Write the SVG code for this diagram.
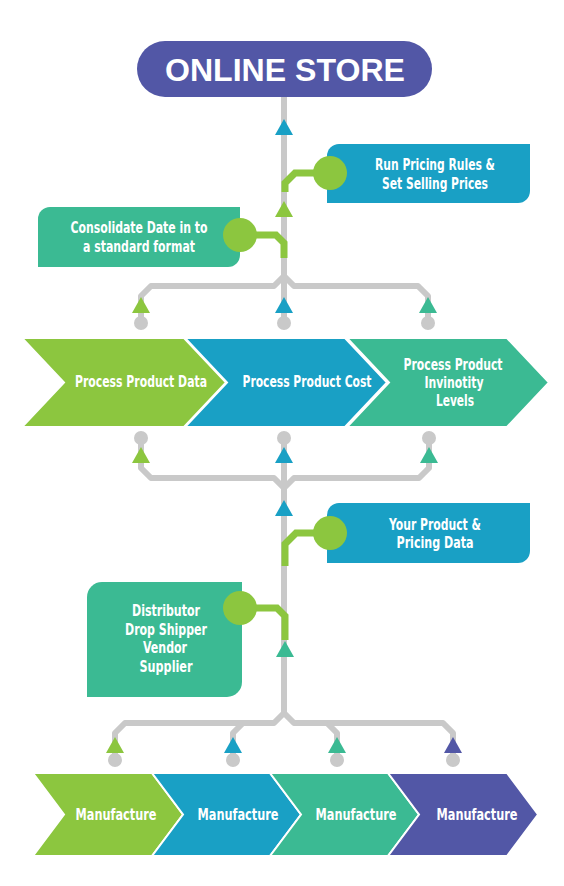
<svg xmlns="http://www.w3.org/2000/svg" width="564" height="886" viewBox="0 0 564 886">
<style>
.g{fill:none;stroke:#c9c9c9;stroke-width:6;stroke-linejoin:round}
.gc{fill:#c9c9c9}
.gl{fill:none;stroke:#8cc63f;stroke-width:7;stroke-linejoin:miter}
.grn{fill:#8cc63f}.blu{fill:#19a0c5}.tea{fill:#3bba93}.ind{fill:#5257a6}
.chev{stroke:#fff;stroke-width:2}
.t{fill:#fff;font-family:"Liberation Sans Narrow","DejaVu Sans Condensed","Liberation Sans",sans-serif;font-weight:bold;font-size:16px;text-anchor:middle}
.title{fill:#fff;font-family:"Liberation Sans",Arial,sans-serif;font-weight:bold;font-size:32px;text-anchor:middle}
</style>
<defs>
<path id="tri" d="M-9,16 L0,0 L9,16 Z"/>
</defs>
<rect width="564" height="886" fill="#fff"/>
<g id="connectors">
  <path class="g" d="M284,90 V300"/>
  <path class="g" d="M284,276 L274,286 H151 L141,296 V323"/>
  <path class="g" d="M284,276 L294,286 H418 L428,296 V323"/>
  <path class="g" d="M284,300 V323"/>
  <path class="g" d="M141,438 V468 L151,478 H274 L284,488"/>
  <path class="g" d="M429,438 V468 L419,478 H294 L284,488"/>
  <path class="g" d="M284,438 V713"/>
  <path class="g" d="M284,713 L274,723 H125 L115,733 V760"/>
  <path class="g" d="M284,713 L294,723 H443 L453,733 V760"/>
  <path class="g" d="M243,723 L233,733 V760"/>
  <path class="g" d="M327,723 L337,733 V760"/>
  <g class="gc">
    <circle cx="141" cy="323" r="7"/><circle cx="284" cy="323" r="7"/><circle cx="428" cy="323" r="7"/>
    <circle cx="141" cy="438" r="7"/><circle cx="284" cy="438" r="7"/><circle cx="429" cy="438" r="7"/>
    <circle cx="115" cy="760" r="7"/><circle cx="233" cy="760" r="7"/><circle cx="337" cy="760" r="7"/><circle cx="453" cy="760" r="7"/>
  </g>
  <path class="gl" d="M330,173 H295 L285,183 V192"/>
  <path class="gl" d="M240,235 H276 L284,243 V258"/>
  <path class="gl" d="M330,533 H296 L285,544 V566"/>
  <path class="gl" d="M240,608 H277 L285,616 V640"/>
  <use href="#tri" class="blu" x="284" y="119"/>
  <use href="#tri" class="grn" x="284" y="201"/>
  <use href="#tri" class="grn" x="141" y="297"/>
  <use href="#tri" class="blu" x="284" y="297"/>
  <use href="#tri" class="tea" x="428" y="297"/>
  <use href="#tri" class="grn" x="141" y="447"/>
  <use href="#tri" class="blu" x="284" y="447"/>
  <use href="#tri" class="tea" x="429" y="447"/>
  <use href="#tri" class="blu" x="284" y="500"/>
  <use href="#tri" class="tea" x="285" y="641"/>
  <use href="#tri" class="grn" x="115" y="737"/>
  <use href="#tri" class="blu" x="233" y="737"/>
  <use href="#tri" class="tea" x="337" y="737"/>
  <use href="#tri" class="ind" x="453" y="737"/>
</g>
<g id="online-store">
  <rect x="137" y="41" width="295" height="56" rx="28" class="ind"/>
  <text class="title" x="285" y="81" textLength="240" lengthAdjust="spacingAndGlyphs">ONLINE STORE</text>
</g>
<g id="pricing-rules">
  <path class="blu" d="M339,144 H530 V191 A12,12 0 0 1 518,203 H327 V156 A12,12 0 0 1 339,144 Z"/>
  <circle cx="330" cy="173" r="17" class="grn"/>
  <text class="t" x="435" y="170" textLength="120" lengthAdjust="spacingAndGlyphs">Run Pricing Rules &amp;</text>
  <text class="t" x="435" y="189" textLength="106" lengthAdjust="spacingAndGlyphs">Set Selling Prices</text>
</g>
<g id="consolidate">
  <path class="tea" d="M50,207 H240 V255 A12,12 0 0 1 228,267 H38 V219 A12,12 0 0 1 50,207 Z"/>
  <circle cx="240" cy="235" r="17" class="grn"/>
  <text class="t" x="139" y="233" textLength="137" lengthAdjust="spacingAndGlyphs">Consolidate Date in to</text>
  <text class="t" x="139" y="252" textLength="112" lengthAdjust="spacingAndGlyphs">a standard format</text>
</g>
<g id="process-data">
  <polygon class="grn chev" points="22,338 184,338 226,382.5 184,427 22,427 64,382.5"/>
  <text class="t" x="141" y="387" textLength="132" lengthAdjust="spacingAndGlyphs">Process Product Data</text>
</g>
<g id="process-cost">
  <polygon class="blu chev" points="185,338 345,338 387,382.5 345,427 185,427 227,382.5"/>
  <text class="t" x="307" y="387" textLength="129" lengthAdjust="spacingAndGlyphs">Process Product Cost</text>
</g>
<g id="process-inventory">
  <polygon class="tea chev" points="347,338 507,338 549,382.5 507,427 347,427 389,382.5"/>
  <text class="t" x="453" y="370" textLength="99" lengthAdjust="spacingAndGlyphs">Process Product</text>
  <text class="t" x="454" y="388" textLength="59" lengthAdjust="spacingAndGlyphs">Invinotity</text>
  <text class="t" x="455" y="406" textLength="38" lengthAdjust="spacingAndGlyphs">Levels</text>
</g>
<g id="product-pricing">
  <path class="blu" d="M339,503 H530 V551 A12,12 0 0 1 518,563 H327 V515 A12,12 0 0 1 339,503 Z"/>
  <circle cx="330" cy="533" r="17" class="grn"/>
  <text class="t" x="435" y="530" textLength="92" lengthAdjust="spacingAndGlyphs">Your Product &amp;</text>
  <text class="t" x="435" y="548" textLength="77" lengthAdjust="spacingAndGlyphs">Pricing Data</text>
</g>
<g id="distributor">
  <path class="tea" d="M102,582 H242 V682 A15,15 0 0 1 227,697 H87 V597 A15,15 0 0 1 102,582 Z"/>
  <circle cx="240" cy="608" r="17" class="grn"/>
  <text class="t" x="166" y="616" textLength="68" lengthAdjust="spacingAndGlyphs">Distributor</text>
  <text class="t" x="166" y="635" textLength="82" lengthAdjust="spacingAndGlyphs">Drop Shipper</text>
  <text class="t" x="165" y="653" textLength="44" lengthAdjust="spacingAndGlyphs">Vendor</text>
  <text class="t" x="166" y="672" textLength="53" lengthAdjust="spacingAndGlyphs">Supplier</text>
</g>
<g id="manufacture-1">
  <polygon class="grn chev" points="33,773 152,773 183,814.5 152,856 33,856 64,814.5"/>
  <text class="t" x="116" y="820" font-size="17" textLength="81" lengthAdjust="spacingAndGlyphs">Manufacture</text>
</g>
<g id="manufacture-2">
  <polygon class="blu chev" points="152,773 270,773 301,814.5 270,856 152,856 183,814.5"/>
  <text class="t" x="238" y="820" font-size="17" textLength="81" lengthAdjust="spacingAndGlyphs">Manufacture</text>
</g>
<g id="manufacture-3">
  <polygon class="tea chev" points="270,773 388,773 419,814.5 388,856 270,856 301,814.5"/>
  <text class="t" x="356" y="820" font-size="17" textLength="81" lengthAdjust="spacingAndGlyphs">Manufacture</text>
</g>
<g id="manufacture-4">
  <polygon class="ind chev" points="388,773 507,773 538,814.5 507,856 388,856 419,814.5"/>
  <text class="t" x="477" y="820" font-size="17" textLength="81" lengthAdjust="spacingAndGlyphs">Manufacture</text>
</g>
</svg>
